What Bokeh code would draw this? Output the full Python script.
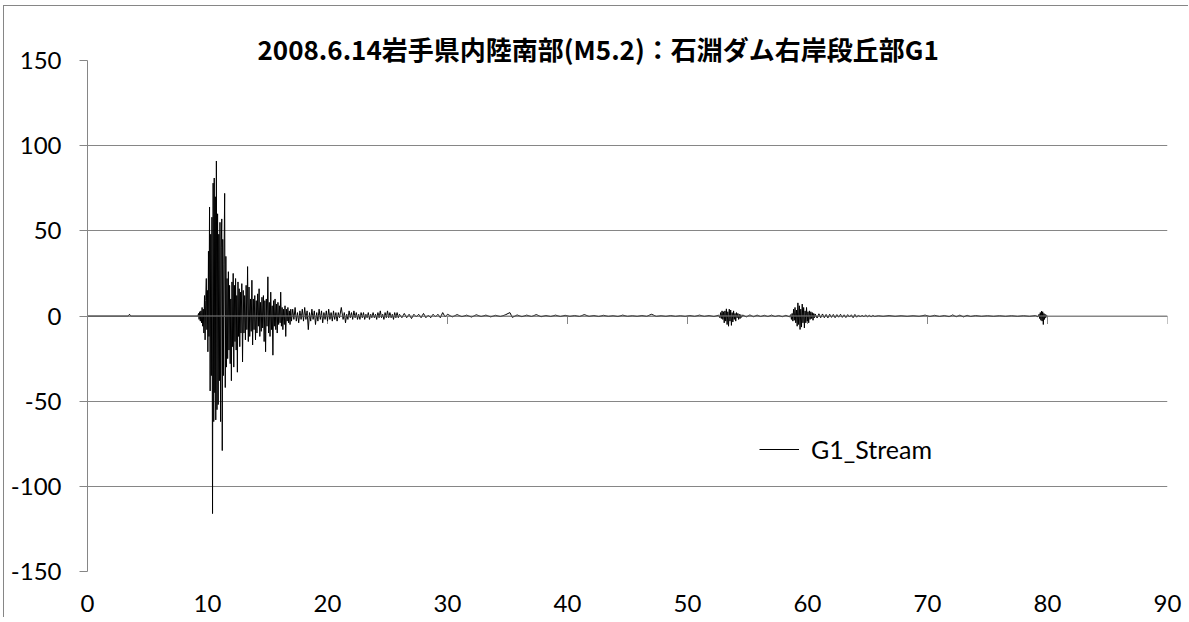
import math
from bokeh.plotting import figure
from bokeh.models import Range1d, Span, FixedTicker, PrintfTickFormatter, Title
from bokeh.embed import file_html
from bokeh.resources import INLINE

TITLE = "2008.6.14岩手県内陸南部(M5.2)：石淵ダム右岸段丘部G1"
SERIES = "G1_Stream"
X_TICKS = [0, 10, 20, 30, 40, 50, 60, 70, 80, 90]
Y_TICKS = [-150, -100, -50, 0, 50, 100, 150]

# ---- waveform (time s, value) ----
pre_t = [0.0, 3.4, 3.5, 3.6, 9.2]
pre_v = [0, 0, 1, 0, 0]

onset_t = [9.25, 9.30, 9.35, 9.40, 9.45, 9.50, 9.55, 9.60, 9.65, 9.70, 9.75, 9.80, 9.85, 9.90, 9.95, 10.00]
onset_v = [1.5, -2, 2.5, -3, 3, -4, 5, -6, 4, -10, 12, -14, 9, 22, -8, 15]

main_t = [10.03, 10.08, 10.12, 10.17, 10.22, 10.27, 10.32, 10.37, 10.42, 10.47, 10.52, 10.56,
          10.61, 10.65, 10.69, 10.74, 10.79, 10.84, 10.89, 10.94, 10.99, 11.04, 11.09, 11.14,
          11.19, 11.23, 11.27, 11.32, 11.37, 11.43, 11.48, 11.53, 11.58, 11.63, 11.68, 11.74,
          11.79, 11.84, 11.89, 11.94, 11.99, 12.04, 12.09, 12.14, 12.19, 12.24, 12.29, 12.34,
          12.39, 12.44, 12.49, 12.54, 12.59, 12.64, 12.69, 12.74, 12.79, 12.86, 12.92, 12.98]
main_v = [-21, 38, -12, 64, -44, 48, -35, 58, -116, 78, -62, 81,
          -45, 70, -61, 91, -55, 60, -52, 48, -38, 55, -62, 40,
          57, -79, 45, -35, 30, 72, -42, 35, -30, 22, -25, 26,
          -20, 18, -28, 10, -38, 20, -18, 25, -30, 18, -15, 22,
          -20, 12, -33, 20, -12, 16, -18, 14, -10, 19, -27, 15]

decay_t = [13.04, 13.10, 13.16, 13.22, 13.28, 13.34, 13.40, 13.46, 13.52, 13.58, 13.64, 13.70,
           13.76, 13.82, 13.88, 13.94, 14.00, 14.06, 14.12, 14.18, 14.24, 14.30, 14.36, 14.42,
           14.48, 14.54, 14.60, 14.66, 14.72, 14.78, 14.84, 14.90, 14.96, 15.03, 15.09, 15.15,
           15.21, 15.27, 15.33, 15.39, 15.45, 15.51, 15.57, 15.63, 15.69, 15.75, 15.81, 15.87,
           15.93, 15.99, 16.05, 16.10, 16.16, 16.22, 16.28, 16.34, 16.40, 16.46, 16.52, 16.58,
           16.64, 16.70, 16.76, 16.82, 16.88, 16.94]
decay_v = [-10, 12, -14, 18, -8, 29, -15, 17, -12, 10, -9, 21,
           -17, 10, -8, 12, -14, 9, -10, 13, -6, 16, -12, 8,
           -9, 11, -7, 12, -15, 9, -21, 10, -6, 23, -10, 8,
           -12, 14, -8, 6, -23, 9, -6, 10, -8, 7, -10, 8,
           -5, 6, -4, 14, -6, 5, -8, 4, -5, 6, -12, 4,
           -3, 5, -4, 3, -5, 4]

coda_t = [17.0, 17.1, 17.2, 17.3, 17.4, 17.5, 17.6, 17.7, 17.8, 17.9, 18.0, 18.1, 18.2, 18.3,
          18.4, 18.5, 18.6, 18.7, 18.8, 18.9, 19.0, 19.1, 19.2, 19.3, 19.4, 19.5, 19.6, 19.7,
          19.8, 19.9, 20.0, 20.1, 20.2, 20.3, 20.4, 20.5, 20.6, 20.7, 20.8, 20.9, 21.0, 21.15,
          21.3, 21.4, 21.5, 21.6, 21.7, 21.8, 21.9, 22.0, 22.1, 22.2, 22.3, 22.4, 22.5, 22.6,
          22.7, 22.8, 22.9, 23.0, 23.1, 23.2, 23.3, 23.4, 23.5, 23.6, 23.7, 23.8, 23.9, 24.0,
          24.1, 24.2, 24.3, 24.4, 24.5, 24.6, 24.7, 24.8, 24.9, 25.0, 25.1, 25.2, 25.3, 25.4,
          25.5, 25.6, 25.7, 25.8, 25.9, 26.0, 26.2, 26.4, 26.6, 26.8, 27.0, 27.2, 27.4, 27.6,
          27.8, 28.0, 28.2, 28.4, 28.6, 28.8, 29.0, 29.2, 29.4, 29.6, 29.8, 30.0]
coda_v = [-3, 4, -2, 5, -3, 2, -4, 3, -2, 4, -3, 5, -2, 3,
          -8, 2, -3, 4, -2, 3, -5, 2, -3, 4, -2, 3, -4, 2,
          -2, 3, -3, 4, -2, 2, -3, 3, -2, 2, -3, 2, -1, 5,
          -2, 2, -4, 1, -2, 3, -1, 2, -2, 3, -1, 2, -2, 1,
          -2, 2, -1, 2, -2, 1, -1, 2, -2, 1, -1, 2, -1, 1,
          -2, 2, -1, 3, -1, 1, -2, 2, -1, 3, -1, 2, -1, 1,
          -2, 2, -1, 2, -1, 1, -1, 1.5, -1, 1, -1.5, 1, -0.5, 1,
          -1, 1.5, -1, 0.5, -1, 1, -0.5, 1, -1, 2, -0.5, 1]

quiet_t = [30.4, 30.8, 31.2, 31.6, 32.0, 32.4, 32.8, 33.2, 33.6, 34.0, 34.4, 34.8, 35.2, 35.4,
           35.8, 36.2, 36.6, 37.0, 37.4, 37.8, 38.2, 38.6, 39.0, 39.4, 39.8, 40.2, 40.6, 41.0,
           41.4, 41.8, 42.2, 42.6, 43.0, 43.4, 43.8, 44.2, 44.6, 45.0, 45.4, 45.8, 46.2, 46.6,
           47.0, 47.4, 47.8, 48.2, 48.6, 49.0, 49.4, 49.8, 50.2, 50.6, 51.0, 51.4, 51.8, 52.2, 52.6]
quiet_v = [-0.5, 0.8, -0.4, 0.5, -0.6, 0.7, -0.3, 0.5, -0.5, 0.4, -0.3, 0.6, 2, -0.8,
           0.6, -0.4, 0.5, -0.3, 0.8, -0.4, 0.3, -0.3, 0.5, -0.3, 0.4, -0.2, 0.3, -0.3,
           0.8, -0.2, 0.3, -0.3, 0.4, -0.2, 0.2, -0.3, 0.5, -0.2, 0.2, -0.2, 0.3, -0.2,
           1, -0.2, 0.2, -0.2, 0.3, -0.2, 0.2, -0.2, 0.3, -0.2, 0.5, -0.2, 0.3, -0.3, 0.5]

burst1_t = [52.70, 52.76, 52.82, 52.88, 52.94, 53.00, 53.06, 53.12, 53.18, 53.24, 53.30, 53.36,
            53.42, 53.48, 53.54, 53.60, 53.66, 53.72, 53.78, 53.84, 53.90, 53.96, 54.02, 54.08,
            54.14, 54.20, 54.26, 54.32, 54.38, 54.44, 54.50, 54.60, 54.9, 55.2, 55.5, 55.8,
            56.1, 56.4, 56.7, 57.0, 57.3, 57.6, 57.9, 58.2, 58.5]
burst1_v = [-1, 2, -1.5, 3, -2, 2.5, -4, 3, -3, 4.2, -5, 2.5,
            -6, 4, -3, 3.5, -5.5, 2, -3.5, 3, -2, 1.5, -3, 2,
            -1, 1.5, -2, 1, -1.5, 0.8, -0.8, 0.6, -0.5, 0.6, -0.4, 0.5,
            -0.3, 0.4, -0.3, 0.5, -0.3, 0.3, -0.4, 0.4, -0.5]

burst2_t = [58.60, 58.66, 58.72, 58.78, 58.84, 58.90, 58.96, 59.02, 59.08, 59.14, 59.20, 59.26,
            59.32, 59.38, 59.44, 59.50, 59.56, 59.62, 59.68, 59.74, 59.80, 59.86, 59.92, 59.98,
            60.04, 60.10, 60.16, 60.22, 60.28, 60.34, 60.40, 60.46, 60.52, 60.58, 60.64]
burst2_v = [0.8, -2, 1.5, -3, 4, -2.5, 5, -4, 3.5, -6, 7.7, -5,
            6, -7.9, 4, -6.5, 7, -4, 5, -7, 3, -4, 5, -3,
            2.5, -4, 3, -2, 2.5, -1.5, 2, -2.5, 1.5, -1, 1.2]

tail_t = [60.80, 60.95, 61.10, 61.25, 61.40, 61.55, 61.70, 61.85, 62.00, 62.15, 62.30, 62.45,
          62.60, 62.75, 62.90, 63.05, 63.20, 63.35, 63.50, 63.65, 63.80, 63.95, 64.10, 64.25,
          64.40, 64.55, 64.70, 64.85, 65.00, 65.15, 65.30, 65.45, 65.60, 65.9, 66.3, 66.8,
          67.3, 67.8, 68.3, 68.8, 69.3, 69.8, 70.2, 70.6, 71.0, 71.4, 71.8, 72.1, 72.4, 72.7,
          73.0, 73.3, 73.6, 74.0, 74.5, 75.0, 75.5, 76.0, 76.5, 77.0, 77.5, 78.0, 78.5, 79.0, 79.2]
tail_v = [-1.2, 1.3, -1, 1.2, -1, 0.9, -1.1, 1, -0.8, 0.9, -1, 0.8,
          -0.7, 1, -0.8, 0.7, -0.9, 0.8, -0.6, 0.7, -1, 0.9, -0.7, 0.6,
          -0.6, 0.5, -0.5, 0.6, -0.4, 0.4, -0.5, 0.4, -0.3, 0.2, -0.2, 0.3,
          -0.2, 0.2, -0.2, 0.2, -0.2, 0.5, -0.3, 0.4, -0.3, 0.3, -0.4, 0.6, -0.4, 0.5,
          -0.5, 0.4, -0.3, 0.3, -0.2, 0.2, -0.2, 0.2, -0.2, 0.2, -0.2, 0.2, -0.2, 0.3, -0.5]

burst3_t = [79.30, 79.35, 79.40, 79.45, 79.50, 79.55, 79.60, 79.65, 79.70, 79.75, 79.80, 79.85, 79.90, 80.00]
burst3_v = [1, -1.5, 2, -2.5, 2.8, -3, 2.5, -5, 1.5, -2, 1, -1, 0.5, 0]

time = pre_t + onset_t + main_t + decay_t + coda_t + quiet_t + burst1_t + burst2_t + tail_t + burst3_t
accel = pre_v + onset_v + main_v + decay_v + coda_v + quiet_v + burst1_v + burst2_v + tail_v + burst3_v

GRAY = "#868686"
FONT = "Lato"

p = figure(frame_width=1080, frame_height=511,
           min_border_left=83, min_border_top=54, min_border_right=21, min_border_bottom=46,
           x_range=Range1d(0, 90), y_range=Range1d(-150, 150),
           output_backend="svg", toolbar_location=None)
p.outline_line_color = None
p.background_fill_color = "white"
p.border_fill_color = "white"
p.styles = {"margin-left": "3px", "margin-top": "5px",
            "border-left": "1px solid #868686", "border-top": "1px solid #868686"}

# title
p.title = Title(text=TITLE, align="left", offset=170, standoff=-12,
                text_font="Noto Sans CJK JP", text_font_style="bold",
                text_font_size="26px", text_color="black", text_line_height=0.7)

# grid
p.xgrid.visible = False
p.ygrid.ticker = FixedTicker(ticks=Y_TICKS)
p.ygrid.grid_line_color = GRAY
p.ygrid.grid_line_width = 1

# y axis
p.yaxis.ticker = FixedTicker(ticks=Y_TICKS)
p.yaxis.formatter = PrintfTickFormatter(format="%d")
p.yaxis.axis_line_color = GRAY
p.yaxis.major_tick_line_color = GRAY
p.yaxis.major_tick_out = 8
p.yaxis.major_tick_in = 0
p.yaxis.minor_tick_line_color = None
p.yaxis.major_label_text_font = FONT
p.yaxis.major_label_text_font_size = "24px"
p.yaxis.major_label_text_color = "black"
p.yaxis.major_label_standoff = 18

# x axis: labels at the bottom, line + ticks at zero
p.xaxis.ticker = FixedTicker(ticks=X_TICKS)
p.xaxis.formatter = PrintfTickFormatter(format="%d")
p.xaxis.axis_line_color = None
p.xaxis.major_tick_line_color = None
p.xaxis.minor_tick_line_color = None
p.xaxis.major_label_text_font = FONT
p.xaxis.major_label_text_font_size = "24px"
p.xaxis.major_label_text_color = "black"
p.xaxis.major_label_standoff = 17

p.add_layout(Span(location=0, dimension="width", line_color=GRAY, line_width=1))
p.ray(x=X_TICKS, y=[0] * len(X_TICKS), length=8, length_units="screen",
      angle=-math.pi / 2, line_color=GRAY, line_width=1)

# data
p.line(time, accel, line_color="black", line_width=1, legend_label=SERIES)

leg = p.legend[0]
leg.location = (672, 107)
leg.border_line_color = None
leg.background_fill_alpha = 0
leg.padding = 0
leg.margin = 0
leg.glyph_width = 40
leg.glyph_height = 20
leg.label_standoff = 12
leg.label_text_font = FONT
leg.label_text_font_size = "25px"
leg.label_text_color = "black"

open("out.html", "w").write(file_html(p, INLINE))
